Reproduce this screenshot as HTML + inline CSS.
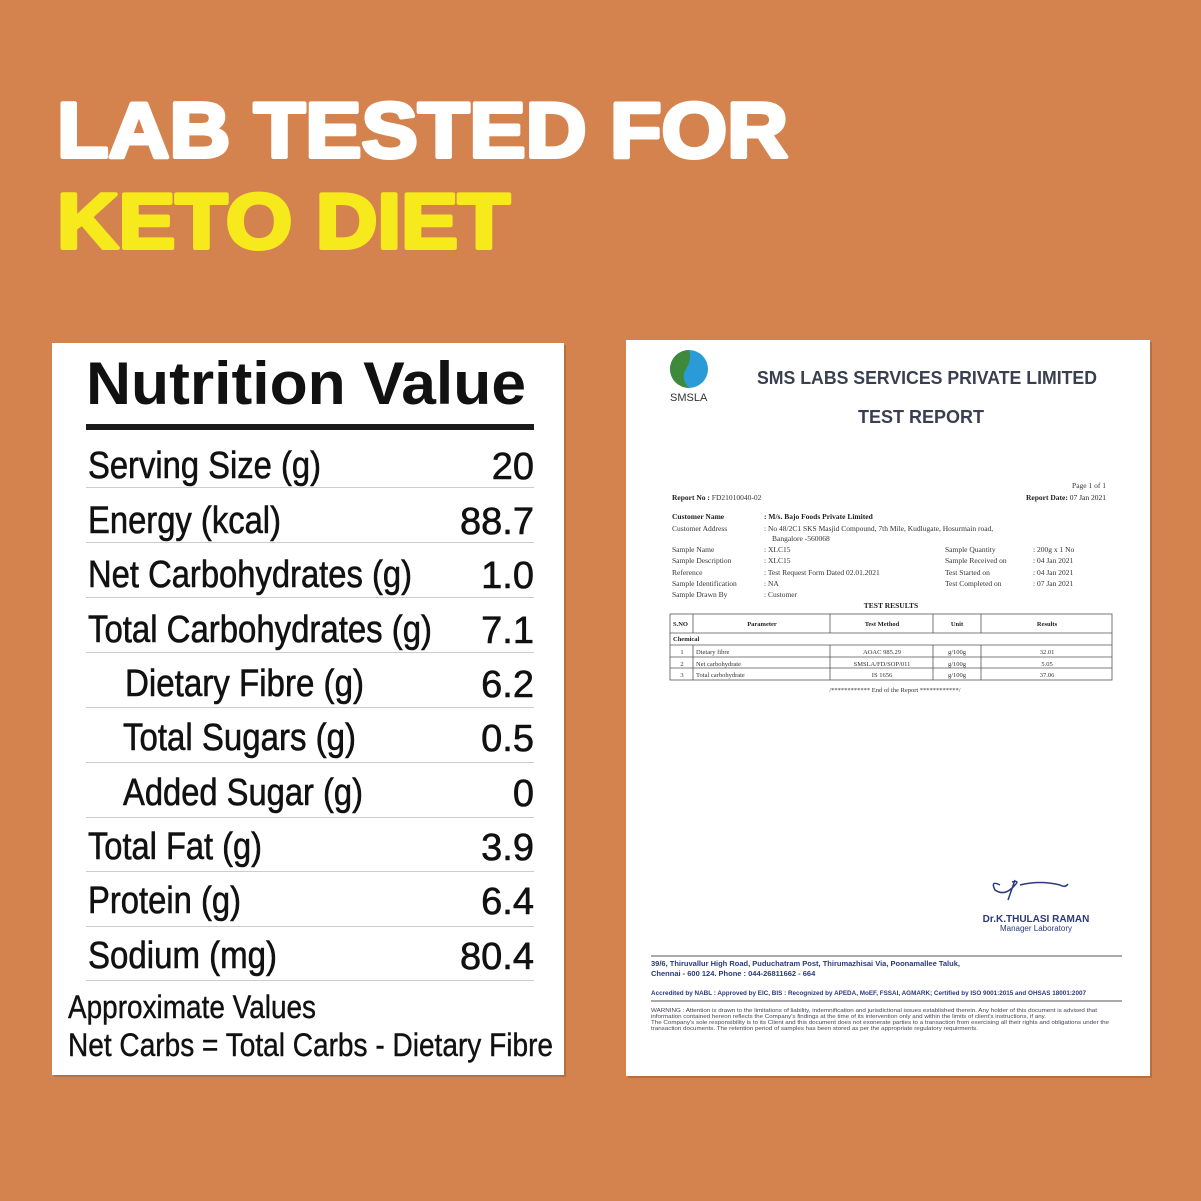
<!DOCTYPE html>
<html><head><meta charset="utf-8"><style>
html,body{margin:0;padding:0;background:#D4834E}
svg{display:block}
text{font-family:"Liberation Sans",sans-serif}
.s{font-family:"Liberation Serif",serif;font-size:7.5px;fill:#333}
.sb{font-family:"Liberation Serif",serif;font-size:7.5px;fill:#222;font-weight:bold}
.r{font-size:38px;fill:#111;stroke:#111;stroke-width:0.6}
</style></head><body>
<svg width="1201" height="1201" viewBox="0 0 1201 1201" xmlns="http://www.w3.org/2000/svg">
<rect width="1201" height="1201" fill="#D4834E"/>
<text x="57" y="157" font-size="78" font-weight="900" fill="#fff" stroke="#fff" stroke-width="4" stroke-linejoin="round" textLength="731" lengthAdjust="spacingAndGlyphs">LAB TESTED FOR</text>
<text x="57" y="248" font-size="78" font-weight="900" fill="#F7EA1C" stroke="#F7EA1C" stroke-width="4" stroke-linejoin="round" textLength="453" lengthAdjust="spacingAndGlyphs">KETO DIET</text>

<!-- left card -->
<rect x="54" y="345" width="512" height="732" fill="#000" opacity="0.15"/>
<rect x="52" y="343" width="512" height="732" fill="#fff"/>
<text x="86" y="404" font-size="60" font-weight="bold" fill="#111" textLength="440" lengthAdjust="spacingAndGlyphs">Nutrition Value</text>
<rect x="86" y="424" width="448" height="6" fill="#1a1a1a"/>
<g stroke="#ccc" stroke-width="1">
<line x1="86" y1="487.5" x2="534" y2="487.5"/><line x1="86" y1="542.5" x2="534" y2="542.5"/>
<line x1="86" y1="597.5" x2="534" y2="597.5"/><line x1="86" y1="652.5" x2="534" y2="652.5"/>
<line x1="86" y1="707.5" x2="534" y2="707.5"/><line x1="86" y1="762.5" x2="534" y2="762.5"/>
<line x1="86" y1="817.5" x2="534" y2="817.5"/><line x1="86" y1="871.5" x2="534" y2="871.5"/>
<line x1="86" y1="926.5" x2="534" y2="926.5"/><line x1="86" y1="980.5" x2="534" y2="980.5"/>
</g>
<g>
<text x="88" y="478" class="r" textLength="233" lengthAdjust="spacingAndGlyphs">Serving Size (g)</text>
<text x="88" y="533" class="r" textLength="193" lengthAdjust="spacingAndGlyphs">Energy (kcal)</text>
<text x="88" y="587" class="r" textLength="324" lengthAdjust="spacingAndGlyphs">Net Carbohydrates (g)</text>
<text x="88" y="642" class="r" textLength="344" lengthAdjust="spacingAndGlyphs">Total Carbohydrates (g)</text>
<text x="125" y="696" class="r" textLength="239" lengthAdjust="spacingAndGlyphs">Dietary Fibre (g)</text>
<text x="123" y="750" class="r" textLength="233" lengthAdjust="spacingAndGlyphs">Total Sugars (g)</text>
<text x="123" y="805" class="r" textLength="240" lengthAdjust="spacingAndGlyphs">Added Sugar (g)</text>
<text x="88" y="859" class="r" textLength="174" lengthAdjust="spacingAndGlyphs">Total Fat (g)</text>
<text x="88" y="913" class="r" textLength="153" lengthAdjust="spacingAndGlyphs">Protein (g)</text>
<text x="88" y="968" class="r" textLength="189" lengthAdjust="spacingAndGlyphs">Sodium (mg)</text>
</g>
<g text-anchor="end">
<text x="534" y="479" class="r">20</text>
<text x="534" y="534" class="r">88.7</text>
<text x="534" y="588" class="r">1.0</text>
<text x="534" y="643" class="r">7.1</text>
<text x="534" y="697" class="r">6.2</text>
<text x="534" y="751" class="r">0.5</text>
<text x="534" y="806" class="r">0</text>
<text x="534" y="860" class="r">3.9</text>
<text x="534" y="914" class="r">6.4</text>
<text x="534" y="969" class="r">80.4</text>
</g>
<text x="68" y="1018" font-size="32" fill="#111" stroke="#111" stroke-width="0.4" textLength="248" lengthAdjust="spacingAndGlyphs">Approximate Values</text>
<text x="68" y="1056" font-size="32" fill="#111" stroke="#111" stroke-width="0.4" textLength="485" lengthAdjust="spacingAndGlyphs">Net Carbs = Total Carbs - Dietary Fibre</text>

<!-- right doc -->
<rect x="628" y="342" width="524" height="736" fill="#000" opacity="0.15"/>
<rect x="626" y="340" width="524" height="736" fill="#fff"/>
<circle cx="689" cy="369" r="19" fill="#2A9BD6"/>
<path d="M689 350 A19 19 0 0 0 689 388 Q680 378 686 369 Q692 360 689 350Z" fill="#3E8A3A"/>
<text x="670" y="401" font-size="11" fill="#333">SMSLA</text>
<text x="757" y="384" font-size="18" font-weight="bold" fill="#3a3f50" textLength="340" lengthAdjust="spacingAndGlyphs">SMS LABS SERVICES PRIVATE LIMITED</text>
<text x="858" y="423" font-size="18" font-weight="bold" fill="#3a3f50" textLength="126" lengthAdjust="spacingAndGlyphs">TEST REPORT</text>
<text x="1106" y="488" class="s" text-anchor="end">Page 1 of 1</text>
<text x="672" y="500" class="sb">Report No :  <tspan class="s" font-weight="normal">FD21010040-02</tspan></text>
<text x="1106" y="500" class="sb" text-anchor="end">Report Date:  <tspan font-weight="normal">07 Jan 2021</tspan></text>
<text x="672" y="519" class="sb">Customer Name</text><text x="764" y="519" class="sb">:  M/s. Bajo Foods Private Limited</text>
<text x="672" y="531" class="s">Customer Address</text><text x="764" y="531" class="s">:  No 48/2C1 SKS Masjid Compound, 7th Mile, Kudlugate, Hosurmain road,</text>
<text x="772" y="541" class="s">Bangalore -560068</text>
<text x="672" y="552" class="s">Sample Name</text><text x="764" y="552" class="s">:  XLC15</text>
<text x="672" y="563" class="s">Sample Description</text><text x="764" y="563" class="s">:  XLC15</text>
<text x="672" y="575" class="s">Reference</text><text x="764" y="575" class="s">:  Test Request Form Dated 02.01.2021</text>
<text x="672" y="586" class="s">Sample Identification</text><text x="764" y="586" class="s">:  NA</text>
<text x="672" y="597" class="s">Sample Drawn By</text><text x="764" y="597" class="s">:  Customer</text>
<text x="945" y="552" class="s">Sample Quantity</text><text x="1033" y="552" class="s">: 200g x 1 No</text>
<text x="945" y="563" class="s">Sample Received on</text><text x="1033" y="563" class="s">: 04 Jan 2021</text>
<text x="945" y="575" class="s">Test Started on</text><text x="1033" y="575" class="s">: 04 Jan 2021</text>
<text x="945" y="586" class="s">Test Completed on</text><text x="1033" y="586" class="s">: 07 Jan 2021</text>
<text x="891" y="608" class="sb" text-anchor="middle">TEST RESULTS</text>
<g fill="none" stroke="#555" stroke-width="0.8">
<rect x="670" y="614" width="442" height="66"/>
<line x1="670" y1="633" x2="1112" y2="633"/><line x1="670" y1="645" x2="1112" y2="645"/>
<line x1="670" y1="657" x2="1112" y2="657"/><line x1="670" y1="668" x2="1112" y2="668"/>
<line x1="693" y1="614" x2="693" y2="633"/><line x1="693" y1="645" x2="693" y2="680"/>
<line x1="830" y1="614" x2="830" y2="633"/><line x1="830" y1="645" x2="830" y2="680"/>
<line x1="933" y1="614" x2="933" y2="633"/><line x1="933" y1="645" x2="933" y2="680"/>
<line x1="981" y1="614" x2="981" y2="633"/><line x1="981" y1="645" x2="981" y2="680"/>
</g>
<g>
<text x="673" y="626" class="sb" style="font-size:6.5px">S.NO</text>
<text x="762" y="626" class="sb" style="font-size:6.5px" text-anchor="middle">Parameter</text>
<text x="882" y="626" class="sb" style="font-size:6.5px" text-anchor="middle">Test Method</text>
<text x="957" y="626" class="sb" style="font-size:6.5px" text-anchor="middle">Unit</text>
<text x="1047" y="626" class="sb" style="font-size:6.5px" text-anchor="middle">Results</text>
<text x="673" y="641" class="sb" style="font-size:6.5px">Chemical</text>
<text x="682" y="654" class="s" style="font-size:6.5px" text-anchor="middle">1</text><text x="696" y="654" class="s" style="font-size:6.5px">Dietary fibre</text><text x="882" y="654" class="s" style="font-size:6.5px" text-anchor="middle">AOAC 985.29</text><text x="957" y="654" class="s" style="font-size:6.5px" text-anchor="middle">g/100g</text><text x="1047" y="654" class="s" style="font-size:6.5px" text-anchor="middle">32.01</text>
<text x="682" y="666" class="s" style="font-size:6.5px" text-anchor="middle">2</text><text x="696" y="666" class="s" style="font-size:6.5px">Net carbohydrate</text><text x="882" y="666" class="s" style="font-size:6.5px" text-anchor="middle">SMSLA/FD/SOP/011</text><text x="957" y="666" class="s" style="font-size:6.5px" text-anchor="middle">g/100g</text><text x="1047" y="666" class="s" style="font-size:6.5px" text-anchor="middle">5.05</text>
<text x="682" y="677" class="s" style="font-size:6.5px" text-anchor="middle">3</text><text x="696" y="677" class="s" style="font-size:6.5px">Total carbohydrate</text><text x="882" y="677" class="s" style="font-size:6.5px" text-anchor="middle">IS 1656</text><text x="957" y="677" class="s" style="font-size:6.5px" text-anchor="middle">g/100g</text><text x="1047" y="677" class="s" style="font-size:6.5px" text-anchor="middle">37.06</text>
<text x="895" y="692" class="s" style="font-size:6.5px" text-anchor="middle">/************ End of the Report ************/</text>
</g>
<path d="M1000 885 Q990 880 995 890 Q1005 897 1015 885 Q1020 880 1012 882 M1015 880 L1008 900 M1020 885 Q1040 880 1060 885 Q1065 888 1068 884" fill="none" stroke="#2b3a7a" stroke-width="1.5"/>
<text x="1036" y="922" font-size="10" font-weight="bold" fill="#2b3a7a" text-anchor="middle">Dr.K.THULASI RAMAN</text>
<text x="1036" y="931" font-size="8" fill="#2b3a7a" text-anchor="middle">Manager Laboratory</text>
<line x1="651" y1="956" x2="1122" y2="956" stroke="#555" stroke-width="1"/>
<text x="651" y="966" font-size="7.5" font-weight="bold" fill="#2b3a7a">39/6, Thiruvallur High Road, Puduchatram Post, Thirumazhisai Via, Poonamallee Taluk,</text>
<text x="651" y="976" font-size="7.5" font-weight="bold" fill="#2b3a7a">Chennai - 600 124. Phone : 044-26811662 - 664</text>
<text x="651" y="995" font-size="6.5" font-weight="bold" fill="#2b3a7a" textLength="435" lengthAdjust="spacingAndGlyphs">Accredited by NABL : Approved by EIC, BIS : Recognized by APEDA, MoEF, FSSAI, AGMARK; Certified by ISO 9001:2015 and OHSAS 18001:2007</text>
<line x1="651" y1="1001" x2="1122" y2="1001" stroke="#555" stroke-width="1"/>
<g font-size="5" fill="#445">
<text x="651" y="1012" textLength="446" lengthAdjust="spacingAndGlyphs">WARNING : Attention is drawn to the limitations of liability, indemnification and jurisdictional issues established therein. Any holder of this document is advised that</text>
<text x="651" y="1018" textLength="395" lengthAdjust="spacingAndGlyphs">information contained hereon reflects the Company's findings at the time of its intervention only and within the limits of client's instructions, if any.</text>
<text x="651" y="1024" textLength="458" lengthAdjust="spacingAndGlyphs">The Company's sole responsibility is to its Client and this document does not exonerate parties to a transaction from exercising all their rights and obligations under the</text>
<text x="651" y="1030" textLength="327" lengthAdjust="spacingAndGlyphs">transaction documents. The retention period of samples has been stored as per the appropriate regulatory requirments.</text>
</g>
</svg>
</body></html>
